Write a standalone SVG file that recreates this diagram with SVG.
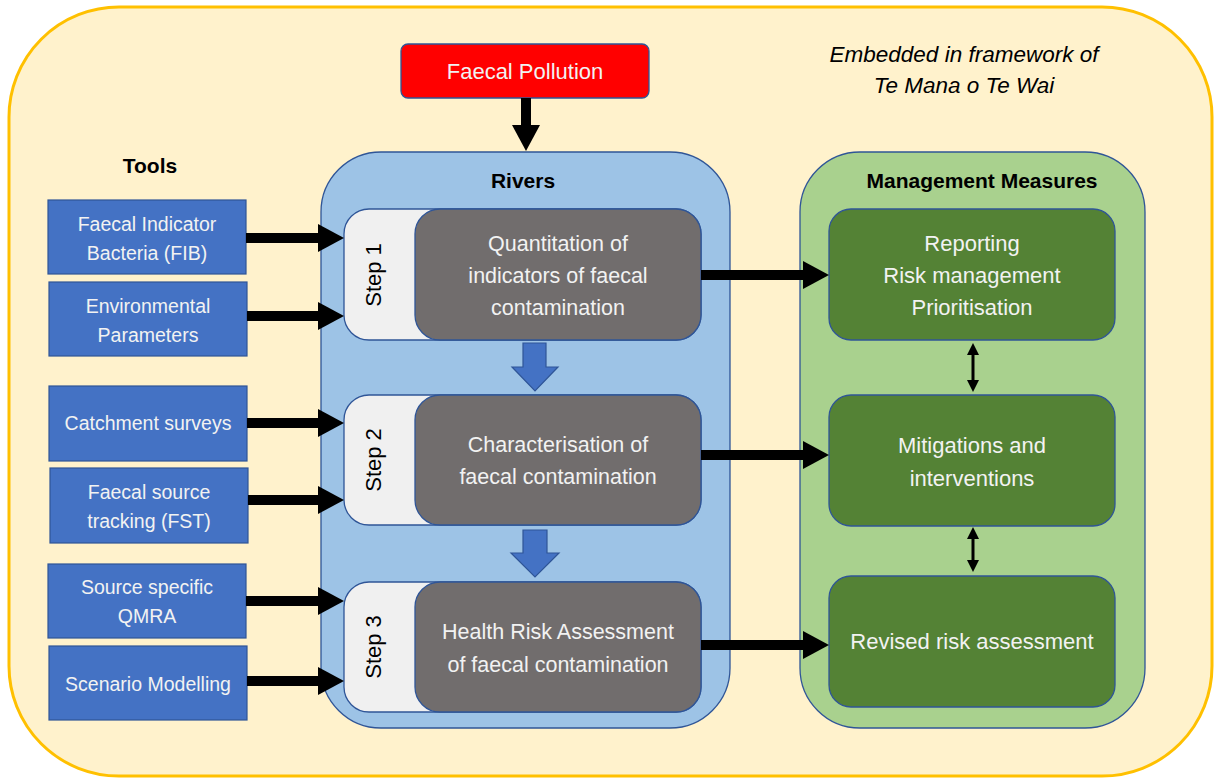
<svg xmlns="http://www.w3.org/2000/svg" width="1216" height="778" viewBox="0 0 1216 778">
  <style>
    .txt { font-family: "Liberation Sans", Arial, sans-serif; }
    .tool { fill: #4472C4; stroke: #2F5597; stroke-width: 1.2; }
    .tooltxt { font-family: "Liberation Sans", Arial, sans-serif; font-size: 19.5px; fill: #F2F2F2; text-anchor: middle; }
    .stepbg { fill: #F0F0F0; stroke: #2F5597; stroke-width: 1.3; }
    .stepbox { fill: #716D6D; stroke: #2F5597; stroke-width: 1.3; }
    .steptxt { font-family: "Liberation Sans", Arial, sans-serif; font-size: 21.5px; fill: #F2F2F2; text-anchor: middle; }
    .steplbl { font-family: "Liberation Sans", Arial, sans-serif; font-size: 22px; fill: #000; text-anchor: middle; }
    .mm { fill: #548235; stroke: #2F5597; stroke-width: 1.3; }
    .mmtxt { font-family: "Liberation Sans", Arial, sans-serif; font-size: 22px; fill: #F2F2F2; text-anchor: middle; }
    .head { font-family: "Liberation Sans", Arial, sans-serif; font-size: 21px; font-weight: bold; fill: #000; text-anchor: middle; }
    .thick { stroke: #000; stroke-width: 10; fill: none; }
    .thin { stroke: #000; stroke-width: 3; fill: none; }
    .blockarrow { fill: #4472C4; stroke: #2F5597; stroke-width: 1.2; }
  </style>
  <defs>
    <marker id="ah" viewBox="0 0 26 28" refX="1" refY="14" markerWidth="26" markerHeight="28" markerUnits="userSpaceOnUse" orient="auto">
      <path d="M0,0 L26,14 L0,28 z" fill="#000"/>
    </marker>
    <marker id="ahs" viewBox="0 0 12 12" refX="1" refY="6" markerWidth="12" markerHeight="12" markerUnits="userSpaceOnUse" orient="auto-start-reverse">
      <path d="M0,0 L12,6 L0,12 z" fill="#000"/>
    </marker>
  </defs>

  <!-- outer frame -->
  <rect id="frame" x="9" y="7" width="1203" height="769" rx="110" ry="110" fill="#FFF2CC" stroke="#FFC000" stroke-width="3"/>

  <g id="framework-note">
    <text class="txt" x="964" y="62" font-size="22.5" font-style="italic" text-anchor="middle" fill="#000">Embedded in framework of</text>
    <text class="txt" x="964" y="93" font-size="22.5" font-style="italic" text-anchor="middle" fill="#000">Te Mana o Te Wai</text>
  </g>

  <g id="faecal-pollution">
    <rect x="401" y="44" width="248" height="54" rx="7" fill="#FF0000" stroke="#2F5597" stroke-width="1.3"/>
    <text class="txt" x="525" y="79" font-size="22" fill="#F2F2F2" text-anchor="middle">Faecal Pollution</text>
  </g>

  <!-- Rivers container -->
  <g id="rivers">
    <rect x="321" y="152" width="409" height="576" rx="60" ry="60" fill="#9DC3E6" stroke="#2F5597" stroke-width="1.3"/>
    <text class="head" x="523" y="188">Rivers</text>
  </g>

  <!-- Management container -->
  <g id="management">
    <rect x="800" y="152" width="345" height="576" rx="60" ry="60" fill="#A9D18E" stroke="#2F5597" stroke-width="1.3"/>
    <text class="head" x="982" y="188">Management Measures</text>
  </g>

  <text id="tools-title" class="head" x="150" y="173">Tools</text>

  <!-- Tools -->
  <g id="tool-fib">
    <rect class="tool" x="48" y="200" width="198" height="74"/>
    <text class="tooltxt" x="147" y="231">Faecal Indicator</text>
    <text class="tooltxt" x="147" y="260">Bacteria (FIB)</text>
  </g>
  <g id="tool-env">
    <rect class="tool" x="49" y="282" width="198" height="74"/>
    <text class="tooltxt" x="148" y="313">Environmental</text>
    <text class="tooltxt" x="148" y="342">Parameters</text>
  </g>
  <g id="tool-catchment">
    <rect class="tool" x="49" y="386" width="198" height="75"/>
    <text class="tooltxt" x="148" y="430">Catchment surveys</text>
  </g>
  <g id="tool-fst">
    <rect class="tool" x="50" y="468" width="198" height="75"/>
    <text class="tooltxt" x="149" y="499">Faecal source</text>
    <text class="tooltxt" x="149" y="528">tracking (FST)</text>
  </g>
  <g id="tool-qmra">
    <rect class="tool" x="48" y="564" width="198" height="74"/>
    <text class="tooltxt" x="147" y="594">Source specific</text>
    <text class="tooltxt" x="147" y="623">QMRA</text>
  </g>
  <g id="tool-scenario">
    <rect class="tool" x="49" y="646" width="198" height="74"/>
    <text class="tooltxt" x="148" y="691">Scenario Modelling</text>
  </g>

  <!-- Steps -->
  <g id="step1">
    <rect class="stepbg" x="344" y="209" width="357" height="131" rx="25" ry="25"/>
    <rect class="stepbox" x="415" y="209" width="286" height="131" rx="25" ry="25"/>
    <text class="steplbl" transform="translate(381,275) rotate(-90)">Step 1</text>
    <text class="steptxt" x="558" y="251">Quantitation of</text>
    <text class="steptxt" x="558" y="283">indicators of faecal</text>
    <text class="steptxt" x="558" y="315">contamination</text>
  </g>
  <g id="step2">
    <rect class="stepbg" x="344" y="395" width="357" height="130" rx="25" ry="25"/>
    <rect class="stepbox" x="415" y="395" width="286" height="130" rx="25" ry="25"/>
    <text class="steplbl" transform="translate(381,460) rotate(-90)">Step 2</text>
    <text class="steptxt" x="558" y="452">Characterisation of</text>
    <text class="steptxt" x="558" y="484">faecal contamination</text>
  </g>
  <g id="step3">
    <rect class="stepbg" x="344" y="582" width="357" height="130" rx="25" ry="25"/>
    <rect class="stepbox" x="415" y="582" width="286" height="130" rx="25" ry="25"/>
    <text class="steplbl" transform="translate(381,647) rotate(-90)">Step 3</text>
    <text class="steptxt" x="558" y="639">Health Risk Assessment</text>
    <text class="steptxt" x="558" y="672">of faecal contamination</text>
  </g>

  <!-- Management boxes -->
  <g id="mm-reporting">
    <rect class="mm" x="829" y="209" width="286" height="131" rx="22" ry="22"/>
    <text class="mmtxt" x="972" y="251">Reporting</text>
    <text class="mmtxt" x="972" y="283">Risk management</text>
    <text class="mmtxt" x="972" y="315">Prioritisation</text>
  </g>
  <g id="mm-mitigations">
    <rect class="mm" x="829" y="395" width="286" height="131" rx="22" ry="22"/>
    <text class="mmtxt" x="972" y="453">Mitigations and</text>
    <text class="mmtxt" x="972" y="486">interventions</text>
  </g>
  <g id="mm-revised">
    <rect class="mm" x="829" y="576" width="286" height="131" rx="22" ry="22"/>
    <text class="mmtxt" x="972" y="649">Revised risk assessment</text>
  </g>

  <!-- Connectors -->
  <g id="connectors">
    <!-- pollution to rivers -->
    <line class="thick" x1="526" y1="98" x2="526" y2="126" stroke-width="9" marker-end="url(#ah)"/>
    <!-- tools to steps -->
    <line class="thick" x1="246" y1="238" x2="319" y2="238" marker-end="url(#ah)"/>
    <line class="thick" x1="247" y1="316" x2="319" y2="316" marker-end="url(#ah)"/>
    <line class="thick" x1="247" y1="423" x2="319" y2="423" marker-end="url(#ah)"/>
    <line class="thick" x1="248" y1="500" x2="319" y2="500" marker-end="url(#ah)"/>
    <line class="thick" x1="246" y1="601" x2="319" y2="601" marker-end="url(#ah)"/>
    <line class="thick" x1="247" y1="681" x2="319" y2="681" marker-end="url(#ah)"/>
    <!-- steps to management -->
    <line class="thick" x1="701" y1="275" x2="804" y2="275" marker-end="url(#ah)"/>
    <line class="thick" x1="701" y1="455" x2="804" y2="455" marker-end="url(#ah)"/>
    <line class="thick" x1="701" y1="645" x2="804" y2="645" marker-end="url(#ah)"/>
    <!-- management bidirectional -->
    <line class="thin" x1="973" y1="354" x2="973" y2="381" marker-start="url(#ahs)" marker-end="url(#ahs)"/>
    <line class="thin" x1="973" y1="538" x2="973" y2="561" marker-start="url(#ahs)" marker-end="url(#ahs)"/>
    <!-- step block arrows -->
    <polygon class="blockarrow" points="523,343 546,343 546,367 558,367 535,391 512,367 523,367"/>
    <polygon class="blockarrow" points="523,530 547,530 547,553 559,553 535,577 511,553 523,553"/>
  </g>
</svg>
